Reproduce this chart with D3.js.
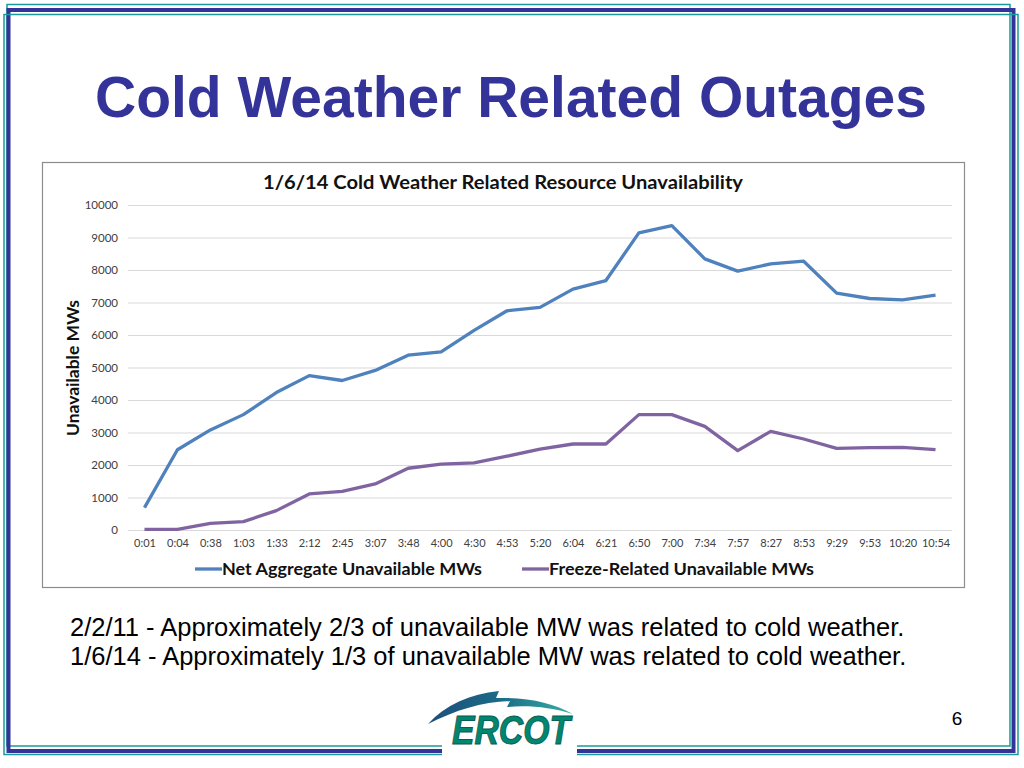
<!DOCTYPE html>
<html>
<head>
<meta charset="utf-8">
<script src="https://d3js.org/d3.v7.min.js"></script>
<style>
  body { margin: 0; background: white; }
  svg { display: block; }
</style>
</head>
<body>
<div id="slide"></div>
<script>
const times = ['0:01','0:04','0:38','1:03','1:33','2:12','2:45','3:07','3:48','4:00','4:30','4:53','5:20',
  '6:04','6:21','6:50','7:00','7:34','7:57','8:27','8:53','9:29','9:53','10:20','10:54']
const netAggregate = [690, 2470, 3080, 3550, 4230, 4750, 4600, 4910, 5380, 5480, 6140, 6745, 6850,
  7410, 7676, 9143, 9368, 8343, 7965, 8190, 8270, 7287, 7123, 7082, 7225]
const freezeRelated = [20, 20, 205, 257, 596, 1110, 1190, 1418, 1900, 2025, 2066, 2270, 2490,
  2646, 2646, 3550, 3550, 3190, 2440, 3036, 2800, 2513, 2533, 2543, 2472]
const yTicks = [0, 1000, 2000, 3000, 4000, 5000, 6000, 7000, 8000, 9000, 10000]
const seriesNames = ['Net Aggregate Unavailable MWs', 'Freeze-Related Unavailable MWs']
const seriesColours = ['#4f81bd', '#8064a2']
const notes = ['2/2/11 - Approximately 2/3 of unavailable MW was related to cold weather.',
  '1/6/14 - Approximately 1/3 of unavailable MW was related to cold weather.']

window.onload = function() {
  let w = 1024,
    h = 768;

  const svg = d3.select('#slide').append('svg')
      .attr('width', w)
      .attr('height', h);

  drawFrame(svg);

  // slide title
  svg.append('text')
      .attr('x', 511)
      .attr('y', 117)
      .attr('text-anchor', 'middle')
      .attr('font-family', 'Liberation Sans, Arial, sans-serif')
      .attr('font-weight', 'bold')
      .attr('font-size', 57)
      .attr('fill', '#333399')
      .text('Cold Weather Related Outages');

  createLineChart(svg);

  svg.selectAll('text.note')
      .data(notes)
      .enter().append('text')
        .attr('class', 'note')
        .attr('x', 70)
        .attr('y', function(d, i) { return 636 + i * 29; })
        .attr('font-family', 'Liberation Sans, Arial, sans-serif')
        .attr('font-size', 25.5)
        .attr('fill', '#000')
        .text(function(d) { return d; });

  svg.append('text')
      .attr('x', 957)
      .attr('y', 725)
      .attr('text-anchor', 'middle')
      .attr('font-family', 'Liberation Sans, Arial, sans-serif')
      .attr('font-size', 19)
      .text('6');

  drawLogo(svg);
}

function drawFrame(svg) {
  svg.append('rect')
      .attr('x', 7).attr('y', 4.5).attr('width', 1003).attr('height', 741.5)
      .attr('fill', 'none').attr('stroke', '#1a9a9a').attr('stroke-width', 1.5);
  svg.append('rect')
      .attr('x', 8.5).attr('y', 10).attr('width', 1005).attr('height', 741)
      .attr('fill', 'none').attr('stroke', '#333399').attr('stroke-width', 4);
  svg.append('rect')
      .attr('x', 4).attr('y', 14.5).attr('width', 1014).attr('height', 740)
      .attr('fill', 'none').attr('stroke', '#1a9a9a').attr('stroke-width', 1.5);
  // gap in the bottom rule where the logo sits
  svg.append('rect')
      .attr('x', 442).attr('y', 738).attr('width', 135).attr('height', 24)
      .attr('fill', 'white');
}

function createLineChart(svg) {
  const font = 'Lato, Open Sans, sans-serif';

  svg.append('rect')
      .attr('x', 42.5).attr('y', 162.5).attr('width', 922).attr('height', 425)
      .attr('fill', 'white').attr('stroke', '#8c8c8c').attr('stroke-width', 1.2);

  svg.append('text')
      .attr('x', 263)
      .attr('y', 189)
      .attr('textLength', 480)
      .attr('lengthAdjust', 'spacingAndGlyphs')
      .attr('font-family', font)
      .attr('font-weight', 'bold')
      .attr('font-size', 18)
      .attr('fill', '#111')
      .text('1/6/14 Cold Weather Related Resource Unavailability');

  let xScale = d3.scalePoint()
      .domain(times)
      .range([128, 952])
      .padding(0.5);

  let yScale = d3.scaleLinear()
      .domain([0, 10000])
      .range([530, 205]);

  // gridlines + y labels
  const yAxis = svg.append('g')
      .attr('transform', 'translate(128,0)')
      .call(d3.axisLeft(yScale).tickValues(yTicks).tickSize(-824).tickPadding(10).tickFormat(d3.format('d')));
  yAxis.select('.domain').remove();
  yAxis.selectAll('line').attr('stroke', '#d9d9d9').attr('stroke-width', 1.2);
  yAxis.selectAll('text')
      .attr('font-family', font)
      .attr('font-size', 11.5)
      .attr('fill', '#404040');

  const xAxis = svg.append('g')
      .attr('transform', 'translate(0,530)')
      .call(d3.axisBottom(xScale).tickSize(0).tickPadding(9));
  xAxis.select('.domain').remove();
  xAxis.selectAll('text')
      .attr('font-family', font)
      .attr('font-size', 11)
      .attr('fill', '#404040');

  svg.append('text')
      .attr('transform', 'translate(79,368) rotate(-90)')
      .attr('text-anchor', 'middle')
      .attr('textLength', 136)
      .attr('lengthAdjust', 'spacingAndGlyphs')
      .attr('font-family', font)
      .attr('font-weight', 'bold')
      .attr('font-size', 17.5)
      .attr('fill', '#111')
      .text('Unavailable MWs');

  let line = d3.line()
      .x(function(d, i) { return xScale(times[i]); })
      .y(function(d) { return yScale(d); });

  [netAggregate, freezeRelated].forEach(function(series, i) {
    svg.append('path')
        .datum(series)
        .attr('fill', 'none')
        .attr('stroke', seriesColours[i])
        .attr('stroke-width', 3.3)
        .attr('stroke-linejoin', 'round')
        .attr('d', line);
  });

  // legend
  const legendX = [195, 522];
  const legendW = [260, 265];
  const legend = svg.selectAll('g.legend')
      .data(seriesNames)
      .enter().append('g')
        .attr('class', 'legend')
        .attr('transform', function(d, i) { return 'translate(' + legendX[i] + ',569)'; });
  legend.append('line')
      .attr('x1', 0).attr('x2', 27)
      .attr('stroke', function(d, i) { return seriesColours[i]; })
      .attr('stroke-width', 3.3);
  legend.append('text')
      .attr('x', 27)
      .attr('y', 6)
      .attr('textLength', function(d, i) { return legendW[i]; })
      .attr('lengthAdjust', 'spacingAndGlyphs')
      .attr('font-family', font)
      .attr('font-weight', 'bold')
      .attr('font-size', 17)
      .attr('fill', '#111')
      .text(function(d) { return d; });
}

function drawLogo(svg) {
  const defs = svg.append('defs');
  const grad = defs.append('linearGradient')
      .attr('id', 'swoosh')
      .attr('x1', '0%').attr('x2', '100%');
  grad.append('stop').attr('offset', '0%').attr('stop-color', '#1c4f7c');
  grad.append('stop').attr('offset', '50%').attr('stop-color', '#1d6a86');
  grad.append('stop').attr('offset', '100%').attr('stop-color', '#35b0a8');

  svg.append('path')
      .attr('d', 'M428,724 C445,705 470,694 499,691 L496,698 C528,697 553,703 573,714 ' +
                 'C551,707 527,705 507,707 L510,701 C481,702 456,710 428,724 Z')
      .attr('fill', 'url(#swoosh)');

  svg.append('text')
      .attr('x', 452)
      .attr('y', 744)
      .attr('textLength', 118)
      .attr('lengthAdjust', 'spacingAndGlyphs')
      .attr('font-family', 'Liberation Sans Narrow, Liberation Sans, sans-serif')
      .attr('font-weight', 'bold')
      .attr('font-style', 'italic')
      .attr('font-size', 40)
      .attr('fill', '#00876f')
      .attr('stroke', '#0b5c57')
      .attr('stroke-width', 1)
      .text('ERCOT');
}
</script>
</body>
</html>
